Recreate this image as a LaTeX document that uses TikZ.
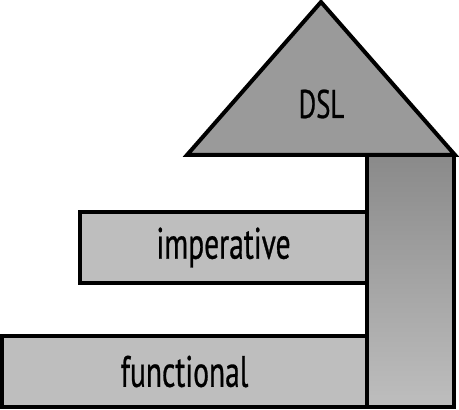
\documentclass[tikz,border=0pt]{standalone}
\usepackage{fontspec}
\newfontfamily\labelfont{PT Sans}[FakeStretch=0.67,FakeBold=0.6]
\usetikzlibrary{positioning}
\definecolor{dslgray}{RGB}{154,154,154}
\definecolor{bargray}{RGB}{190,190,190}
\definecolor{shadetop}{RGB}{138,138,138}
\tikzset{
  outline/.style={draw=black,line width=4pt,line join=miter},
  langbar/.style={outline,fill=bargray,rectangle,inner sep=0pt,
    font=\labelfont\fontsize{44}{44}\selectfont},
}
\begin{document}
\begin{tikzpicture}[x=1pt,y=1pt]
    \useasboundingbox (0,0) rectangle (459,410);
    % the two language bars
    \node[langbar,minimum width=365pt,minimum height=71pt] (functional) at (184.5,38.5) {functional};
    \node[langbar,minimum width=287pt,minimum height=71pt] (imperative) at (223.5,162.5) {imperative};
    % the column holding the roof
    \shade[top color=shadetop,middle color=bargray,bottom color=bargray]
      (367,3) rectangle (454,255);
    \draw[outline] (367,3) rectangle (454,255);
    % the roof
    \coordinate (apex) at (321,408);
    \coordinate (baseleft) at (187,255);
    \coordinate (baseright) at (455,255);
    \filldraw[outline,fill=dslgray] (baseleft) -- (apex) -- (baseright) -- cycle;
    \node[font=\labelfont\fontsize{40}{40}\selectfont] (dsl) at (321.5,306) {DSL};
  \end{tikzpicture}
\end{document}
